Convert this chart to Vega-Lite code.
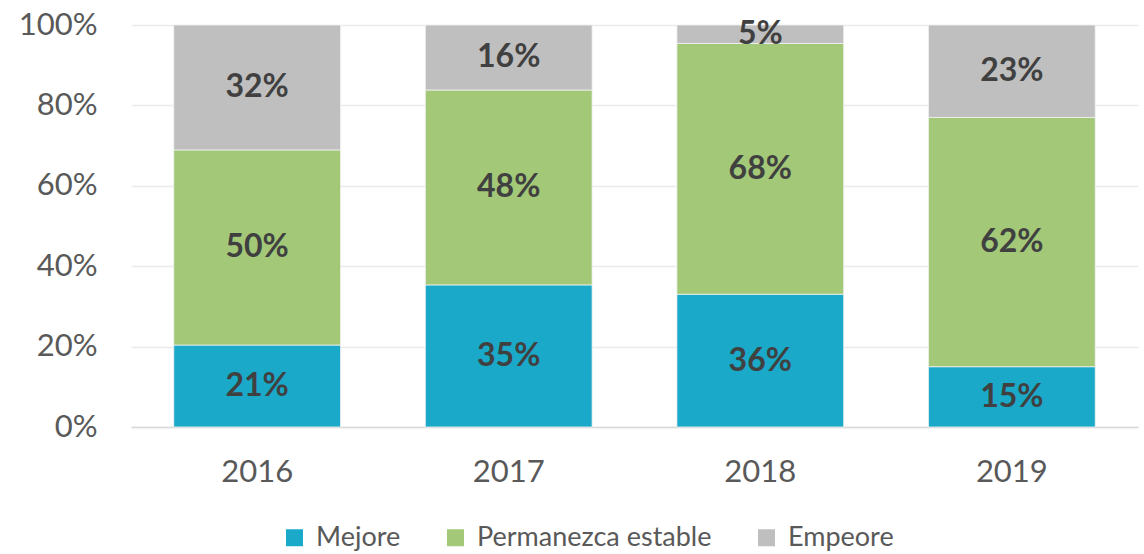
{
  "$schema": "https://vega.github.io/schema/vega-lite/v6.json",
  "width": 1007,
  "height": 402,
  "autosize": {"type": "none"},
  "padding": {"left": 131, "top": 25, "right": 6, "bottom": 127},
  "background": "white",
  "config": {
    "view": {"stroke": null},
    "font": "Lato"
  },
  "data": {
    "values": [
      {"anio": "2016", "cat": "Mejore", "v": 21},
      {"anio": "2016", "cat": "Permanezca estable", "v": 50},
      {"anio": "2016", "cat": "Empeore", "v": 32},
      {"anio": "2017", "cat": "Mejore", "v": 35},
      {"anio": "2017", "cat": "Permanezca estable", "v": 48},
      {"anio": "2017", "cat": "Empeore", "v": 16},
      {"anio": "2018", "cat": "Mejore", "v": 36},
      {"anio": "2018", "cat": "Permanezca estable", "v": 68},
      {"anio": "2018", "cat": "Empeore", "v": 5},
      {"anio": "2019", "cat": "Mejore", "v": 15},
      {"anio": "2019", "cat": "Permanezca estable", "v": 62},
      {"anio": "2019", "cat": "Empeore", "v": 23}
    ]
  },
  "transform": [
    {"calculate": "indexof(['Mejore','Permanezca estable','Empeore'], datum.cat)", "as": "orden"},
    {"stack": "v", "groupby": ["anio"], "sort": [{"field": "orden", "order": "ascending"}], "offset": "normalize", "as": ["y0", "y1"]},
    {"calculate": "(datum.y0 + datum.y1) / 2", "as": "ymid"},
    {"calculate": "datum.v + '%'", "as": "etiqueta"}
  ],
  "encoding": {
    "x": {
      "field": "anio",
      "type": "nominal",
      "title": null,
      "scale": {"paddingInner": 0.337, "paddingOuter": 0.17},
      "axis": {
        "labelAngle": 0,
        "labelFont": "Lato",
        "labelFontSize": 31,
        "labelColor": "#595959",
        "labelPadding": 30,
        "ticks": false,
        "domainColor": "#D9D9D9",
        "domainWidth": 1.5,
        "grid": false
      }
    }
  },
  "layer": [
    {
      "mark": {"type": "bar", "stroke": "#F2F2F2", "strokeWidth": 0.8},
      "encoding": {
        "y": {
          "field": "y0",
          "type": "quantitative",
          "title": null,
          "scale": {"domain": [0, 1], "nice": false},
          "axis": {
            "format": ".0%",
            "values": [0, 0.2, 0.4, 0.6, 0.8, 1],
            "labelFont": "Lato",
            "labelFontSize": 31,
            "labelColor": "#595959",
            "labelPadding": 34,
            "ticks": false,
            "domain": false,
            "grid": true,
            "gridColor": "#EBEBEB",
            "gridWidth": 1.3
          }
        },
        "y2": {"field": "y1"},
        "color": {
          "field": "cat",
          "type": "nominal",
          "sort": ["Mejore", "Permanezca estable", "Empeore"],
          "scale": {
            "domain": ["Mejore", "Permanezca estable", "Empeore"],
            "range": ["#1AA9C8", "#A2C878", "#BFBFBF"]
          },
          "legend": {
            "title": null,
            "orient": "none",
            "direction": "horizontal",
            "legendX": 150,
            "legendY": 499,
            "symbolType": "square",
            "symbolSize": 289,
            "symbolStrokeWidth": 0,
            "labelFont": "Lato",
            "labelFontSize": 27,
            "labelColor": "#595959",
            "labelOffset": 8,
            "labelLimit": 0,
            "columnPadding": 41,
            "padding": 0
          }
        }
      }
    },
    {
      "mark": {"type": "text", "font": "Lato", "fontWeight": "bold", "fontSize": 32, "color": "#404040", "baseline": "middle"},
      "encoding": {
        "y": {"field": "ymid", "type": "quantitative"},
        "text": {"field": "etiqueta", "type": "nominal"},
        "detail": {"field": "cat"}
      }
    }
  ]
}
